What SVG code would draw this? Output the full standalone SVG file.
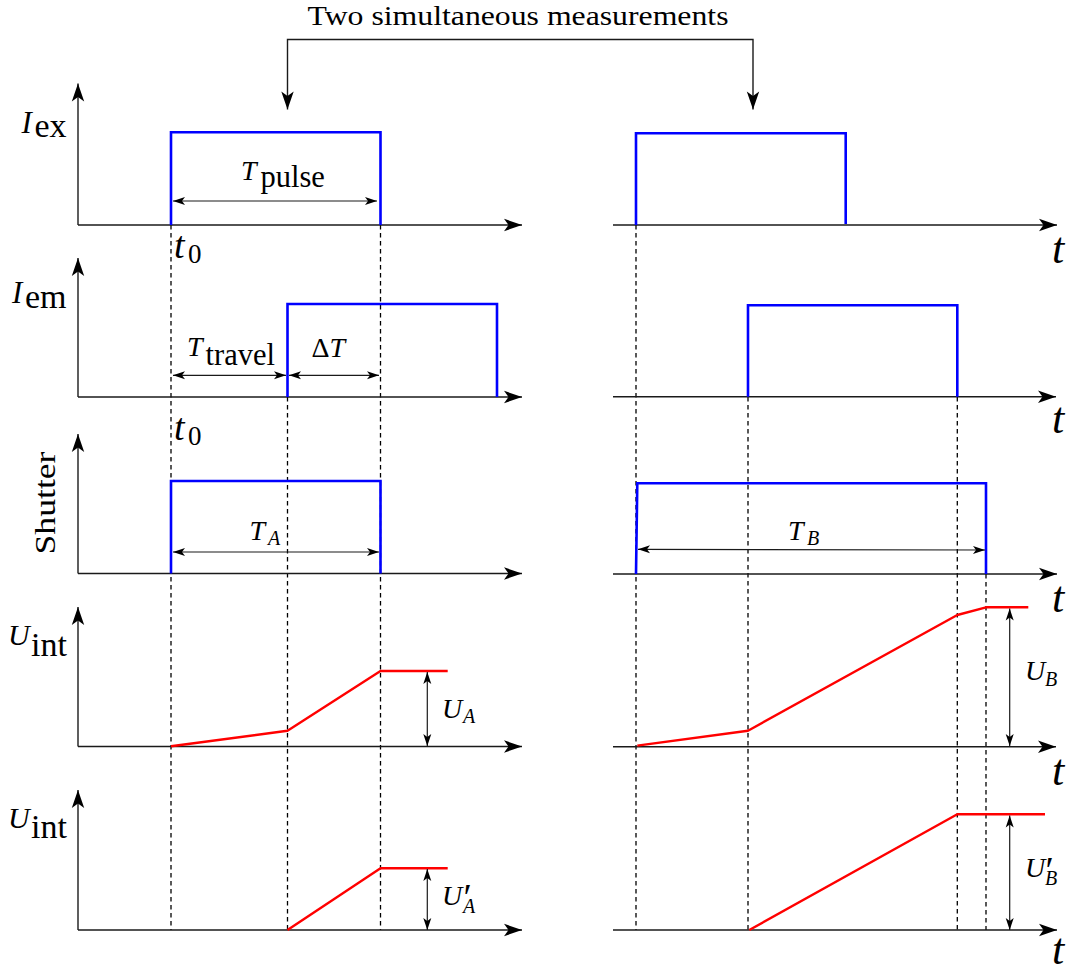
<svg xmlns="http://www.w3.org/2000/svg" width="1076" height="972" viewBox="0 0 1076 972">
<style>
.ax{stroke:#1a1a1a;stroke-width:1.4;fill:none}
.blue{stroke:#0000ff;stroke-width:2.6;fill:none;stroke-linejoin:miter}
.red{stroke:#ff0000;stroke-width:2.4;fill:none;stroke-linejoin:round}
.dash{stroke:#000;stroke-width:1.3;stroke-dasharray:4.5 3.5;fill:none}
.dim{stroke:#1a1a1a;stroke-width:1.2;fill:none}
text{fill:#000;font-family:"Liberation Serif","Times New Roman",serif}
.it{font-style:italic}
.sb{font-size:20px;font-style:italic}
.rs{font-size:34px;font-style:normal}
.pr{font-size:38px;font-style:normal}
.tt{font-size:44px;font-style:italic}
</style>
<defs>
<marker id="big" viewBox="-19 -7 20 14" refX="0" refY="0" markerWidth="20" markerHeight="14" markerUnits="userSpaceOnUse" orient="auto-start-reverse">
<path d="M0,0 L-18,-6.2 L-13.5,0 L-18,6.2 Z" fill="#000"/>
</marker>
<marker id="sm" viewBox="-13 -5 14 10" refX="0" refY="0" markerWidth="14" markerHeight="10" markerUnits="userSpaceOnUse" orient="auto-start-reverse">
<path d="M0,0 L-12,-4 L-9,0 L-12,4 Z" fill="#000"/>
</marker>
</defs>

<g id="title">
<text x="307.5" y="24.5" font-size="27" textLength="421" lengthAdjust="spacingAndGlyphs">Two simultaneous measurements</text>
</g>

<g id="connectors">
<path class="ax" d="M287.5,109.5 V39.5 H753 V109.5" marker-start="url(#big)" marker-end="url(#big)"/>
</g>

<g id="dashed-guides">
<line class="dash" x1="171" y1="225" x2="171" y2="930"/>
<line class="dash" x1="380.5" y1="225" x2="380.5" y2="930"/>
<line class="dash" x1="287.5" y1="397" x2="287.5" y2="930"/>
<line class="dash" x1="636" y1="225" x2="636" y2="930"/>
<line class="dash" x1="748" y1="397" x2="748" y2="930"/>
<line class="dash" x1="957.3" y1="397" x2="957.3" y2="930"/>
<line class="dash" x1="986" y1="574" x2="986" y2="930"/>
</g>

<g id="axes">
<path class="ax" d="M78,225 V83.5" marker-end="url(#big)"/>
<path class="ax" d="M78,225 H522" marker-end="url(#big)"/>
<path class="ax" d="M78,397 V258" marker-end="url(#big)"/>
<path class="ax" d="M78,397 H522" marker-end="url(#big)"/>
<path class="ax" d="M78,573.5 V434" marker-end="url(#big)"/>
<path class="ax" d="M78,573.5 H522" marker-end="url(#big)"/>
<path class="ax" d="M78,746.5 V607" marker-end="url(#big)"/>
<path class="ax" d="M78,746.5 H522" marker-end="url(#big)"/>
<path class="ax" d="M78,930 V790" marker-end="url(#big)"/>
<path class="ax" d="M78,930 H522" marker-end="url(#big)"/>
<path class="ax" d="M613,225 H1057" marker-end="url(#big)"/>
<path class="ax" d="M613,396.7 H1056" marker-end="url(#big)"/>
<path class="ax" d="M613,574 H1057" marker-end="url(#big)"/>
<path class="ax" d="M613,746.7 H1056" marker-end="url(#big)"/>
<path class="ax" d="M613,930 H1057" marker-end="url(#big)"/>
</g>

<g id="signals">
<path class="blue" d="M171,225 V132.3 H380.5 V225"/>
<path class="blue" d="M636,225 V133.3 H845.7 V224"/>
<path class="blue" d="M287.5,397 V304 H497 V397"/>
<path class="blue" d="M748,396.7 V305.3 H957.3 V396.7"/>
<path class="blue" d="M171,573.5 V481 H380.5 V573.5"/>
<path class="blue" d="M636,574 L637.3,483.3 H986 V574"/>
<path class="red" d="M171,746.3 L287.5,730.7 L380.5,671 H447.7"/>
<path class="red" d="M637.3,745.6 L748,730.7 L957.3,615 L986,607.3 H1028.3"/>
<path class="red" d="M287.5,930 L380.5,868.3 H447.7"/>
<path class="red" d="M749.3,930 L957.3,814.3 H1045"/>
</g>

<g id="dimensions">
<path class="dim" d="M173,201 H377" marker-start="url(#sm)" marker-end="url(#sm)"/>
<path class="dim" d="M173,375.3 H286" marker-start="url(#sm)" marker-end="url(#sm)"/>
<path class="dim" d="M289,375.3 H379" marker-start="url(#sm)" marker-end="url(#sm)"/>
<path class="dim" d="M173,552 H379" marker-start="url(#sm)" marker-end="url(#sm)"/>
<path class="dim" d="M638,549.3 L985,550" marker-start="url(#sm)" marker-end="url(#sm)"/>
<path class="dim" d="M427.3,672 V746" marker-start="url(#sm)" marker-end="url(#sm)"/>
<path class="dim" d="M427.3,869 V930" marker-start="url(#sm)" marker-end="url(#sm)"/>
<path class="dim" d="M1009.7,608.5 V746" marker-start="url(#sm)" marker-end="url(#sm)"/>
<path class="dim" d="M1009.7,815.5 V930" marker-start="url(#sm)" marker-end="url(#sm)"/>
</g>

<g id="labels-left">
<text font-size="31"><tspan class="it" x="21.5" y="132.5">I</tspan><tspan class="rs" x="34.5" y="136.7">ex</tspan></text>
<text font-size="31"><tspan class="it" x="12" y="303.3">I</tspan><tspan class="rs" x="25" y="307.5">em</tspan></text>
<text x="55" y="503" font-size="30" text-anchor="middle" transform="rotate(-90 55 503)" textLength="103" lengthAdjust="spacingAndGlyphs">Shutter</text>
<text font-size="30"><tspan class="it" x="8" y="645">U</tspan><tspan class="rs" x="31" y="656">int</tspan></text>
<text font-size="30"><tspan class="it" x="8" y="828.3">U</tspan><tspan class="rs" x="31" y="838.3">int</tspan></text>
<text><tspan class="it" x="174" y="258.3" font-size="38">t</tspan><tspan x="188" y="263.3" font-size="27">0</tspan></text>
<text><tspan class="it" x="174" y="440" font-size="38">t</tspan><tspan x="188" y="445" font-size="27">0</tspan></text>
<text font-size="28"><tspan class="it" x="241" y="180">T</tspan><tspan x="260.5" y="186.7" font-size="30.5">pulse</tspan></text>
<text font-size="28"><tspan class="it" x="187" y="356">T</tspan><tspan x="205.5" y="365" font-size="30.5">travel</tspan></text>
<text font-size="28" x="311.5" y="357.3">Δ<tspan class="it">T</tspan></text>
<text font-size="28"><tspan class="it" x="249.5" y="540">T</tspan><tspan class="sb" x="268" y="545">A</tspan></text>
<text font-size="28"><tspan class="it" x="442" y="718.3">U</tspan><tspan class="sb" x="463" y="723.3">A</tspan></text>
<text font-size="28"><tspan class="it" x="442" y="905">U</tspan><tspan class="pr" x="463.5" y="910">′</tspan><tspan class="sb" x="463" y="913.3">A</tspan></text>
</g>

<g id="labels-right">
<text font-size="28"><tspan class="it" x="788" y="540">T</tspan><tspan class="sb" x="807" y="545">B</tspan></text>
<text font-size="28"><tspan class="it" x="1025" y="680">U</tspan><tspan class="sb" x="1045" y="686">B</tspan></text>
<text font-size="28"><tspan class="it" x="1025" y="877">U</tspan><tspan class="pr" x="1045.5" y="883">′</tspan><tspan class="sb" x="1045" y="885">B</tspan></text>
<text class="tt" x="1052" y="263">t</text>
<text class="tt" x="1052" y="433">t</text>
<text class="tt" x="1052" y="611.7">t</text>
<text class="tt" x="1052" y="785">t</text>
<text class="tt" x="1052" y="964">t</text>
</g>
</svg>
